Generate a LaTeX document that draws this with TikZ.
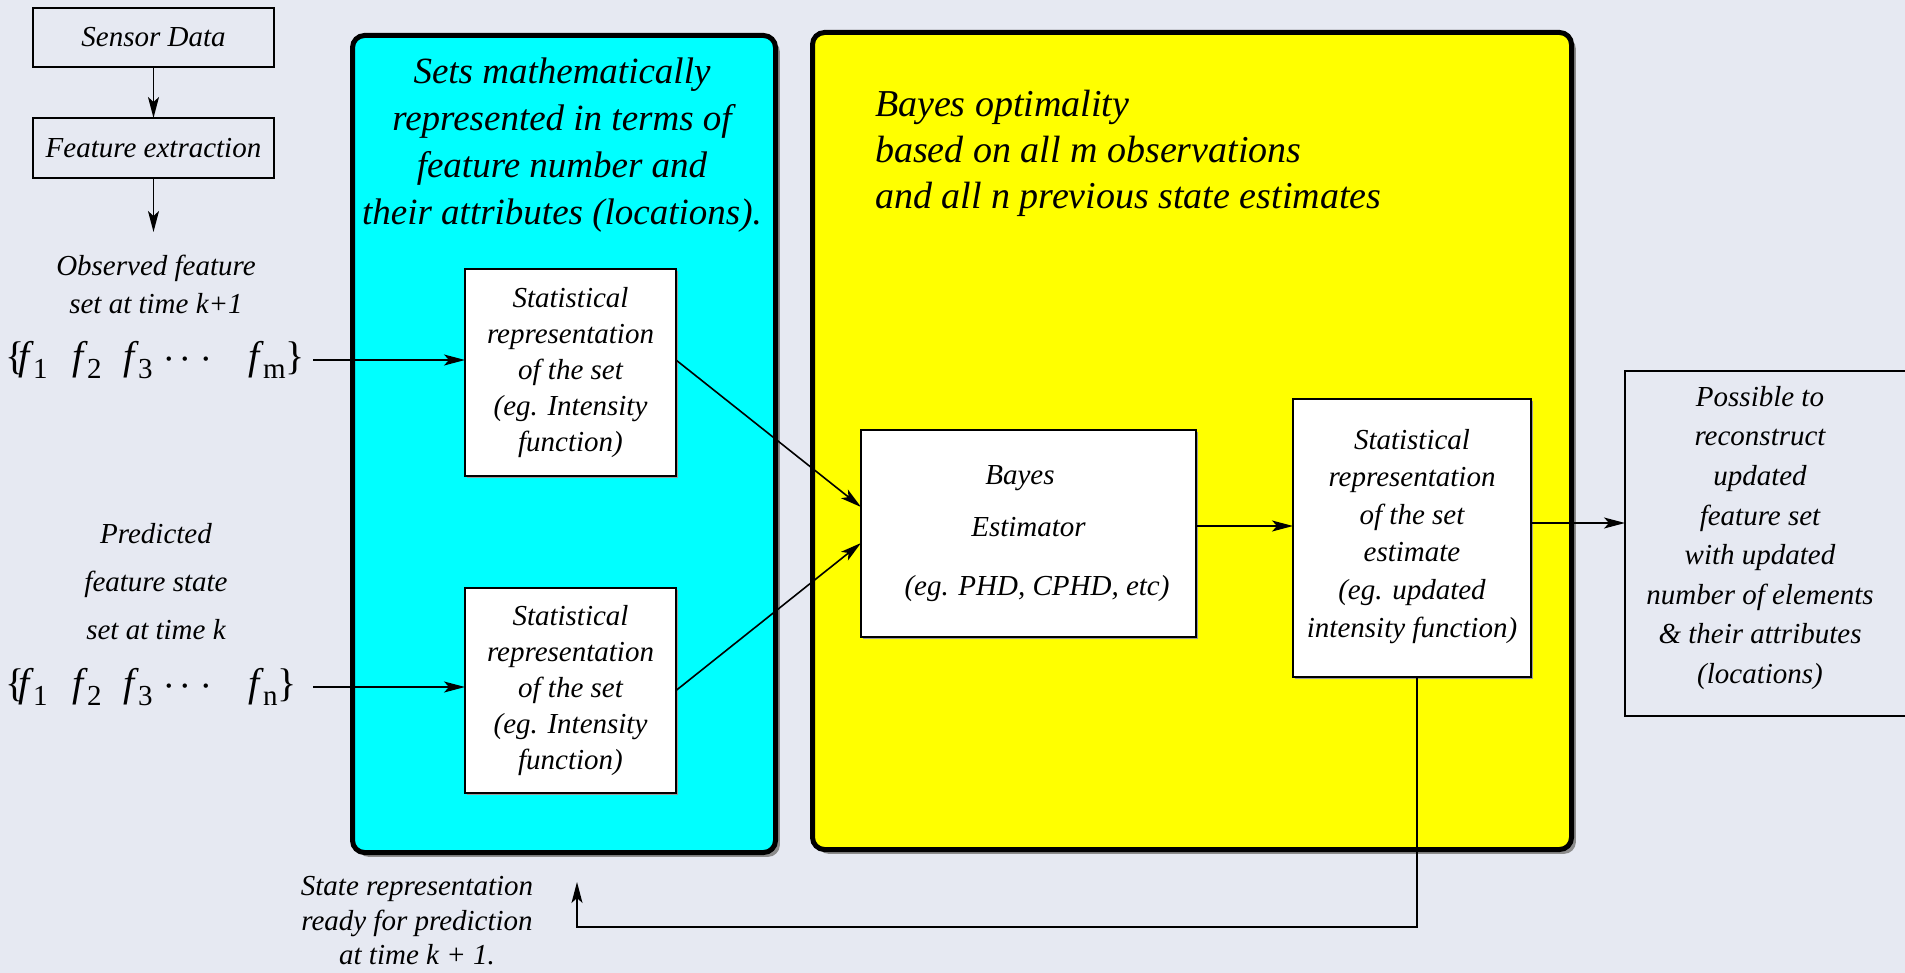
\documentclass[tikz,border=0pt]{standalone}
\usepackage{fontspec}
\setmainfont{Liberation Serif}
\usetikzlibrary{arrows.meta,shadows}
\definecolor{bg}{RGB}{230,233,242}
\definecolor{cyanbox}{RGB}{0,255,255}
\definecolor{yellowbox}{RGB}{255,255,0}
\newcommand{\fsub}[1]{\textit{f}\kern2pt\raisebox{-4.5pt}{\upshape\fontsize{14.5}{14.5}\selectfont #1}}
\newcommand{\frow}[1]{\makebox[6.5pt][l]{\textup{\{}}\makebox[27pt][l]{\fsub{1}}\makebox[25.5pt][l]{\fsub{2}}\makebox[18.5pt][l]{\fsub{3}}\makebox[44pt][l]{\hspace{1.5pt}$\cdot$\hspace{2.5pt}$\cdot$\hspace{5pt}$\cdot$}\fsub{#1}\textup{\}}}
\begin{document}
\begin{tikzpicture}[x=0.5pt,y=-0.5pt,
  every node/.style={font=\fontsize{14.5}{18}\selectfont\itshape, align=center, inner sep=0pt, outer sep=0pt},
  wbox/.style={draw, line width=0.9pt, fill=white, drop shadow={shadow xshift=0.8pt, shadow yshift=-0.8pt, fill=black!40, opacity=1}},
  obox/.style={draw, line width=0.8pt},
  arr/.style={-{Stealth[length=10.5pt,width=5.5pt,inset=2.5pt]}, line width=0.8pt},
  big/.style={draw, line width=2.5pt, rounded corners=6pt, drop shadow={shadow xshift=2.2pt, shadow yshift=-2.2pt, fill=black!45, opacity=1}}]
\useasboundingbox (0,0) rectangle (1905,973);
\clip (0,0) rectangle (1905,973);
\fill[bg] (0,0) rectangle (1905,973);

% panels
\node (cyanp) [big, fill=cyanbox, minimum width=211.5pt, minimum height=408.5pt] at (564,444) {};
\node (yellowp) [big, fill=yellowbox, minimum width=379.5pt, minimum height=408.5pt] at (1192,441) {};

\node (ctitle) at (562,145) [font=\fontsize{18.5}{23.5}\selectfont\itshape] {Sets mathematically\\represented in terms of\\feature number and\\their attributes (locations).};
\node (ytitle) [anchor=west, align=left, font=\fontsize{19}{23}\selectfont\itshape] at (875,153) {Bayes optimality\\based on all m observations\\and all n previous state estimates};

% left column
\node (sd) [obox, minimum width=120.5pt, minimum height=29.5pt] at (153.5,37.5) {Sensor Data};
\node (fe) [obox, minimum width=120.5pt, minimum height=30pt] at (153.5,148) {Feature extraction};
\coordinate (feend) at (153.5,232);
\node (obs) at (156,284) [font=\fontsize{14.5}{19}\selectfont\itshape] {Observed feature\\set at time k+1};
\node (fm) [anchor=west, font=\fontsize{20}{20}\selectfont\itshape] at (5,360) {\frow{m}};
\node (pred) at (156,582) [font=\fontsize{14.5}{24}\selectfont\itshape] {Predicted\\feature state\\set at time k};
\node (fn) [anchor=west, font=\fontsize{20}{20}\selectfont\itshape] at (5,687) {\frow{n}};

% inner boxes
\node (b1) [wbox, minimum width=105.5pt, minimum height=103.5pt] at (570.5,372.5) {Statistical\\representation\\of the set\\(eg. Intensity\\function)};
\node (b2) [wbox, minimum width=105.5pt, minimum height=102.5pt] at (570.5,690.5) {Statistical\\representation\\of the set\\(eg. Intensity\\function)};
\node (bayes) [wbox, minimum width=167.5pt, minimum height=103.5pt] at (1028.5,533.5) {Bayes\hspace*{8.5pt}\\[8pt]Estimator\hspace*{8.5pt}\\[11.5pt]\hspace*{8.5pt}(eg. PHD, CPHD, etc)};
\node (est) [wbox, minimum width=119pt, minimum height=139pt, font=\fontsize{14.5}{18.8}\selectfont\itshape] at (1412,538) {Statistical\\representation\\of the set\\estimate\\(eg. updated\\intensity function)\\[-13.8pt]\mbox{}};

% right box
\node (rbox) [obox, anchor=north west, minimum width=145pt, minimum height=172.5pt] at (1625,371) {};
\node (rtext) at (1760,538) [font=\fontsize{14.5}{19.8}\selectfont\itshape] {Possible to\\reconstruct\\updated\\feature set\\with updated\\number of elements\\\& their attributes\\(locations)};

% bottom label
\node (state) at (417,921) [font=\fontsize{14.5}{17.25}\selectfont\itshape] {State representation\\ready for prediction\\at time k + 1.};
\coordinate (fb) at (577,882);

% connectors
\draw[arr] (sd) -- (fe);
\draw[arr] (fe) -- (feend);
\draw[arr] (fm.east -| 313,0) -- (fm.east -| b1.west);
\draw[arr] (fn.east -| 313,0) -- (fn.east -| b2.west);
\draw[arr] (b1.east |- fm.east) -- ([yshift=13.25pt]bayes.west);
\draw[arr] (b2.east) -- ([yshift=-4.75pt]bayes.west);
\draw[arr] ([yshift=3.75pt]bayes.east) -- ([yshift=3.75pt]bayes.east -| est.west);
\draw[arr] ([yshift=7.5pt]est.east) -- ([yshift=7.5pt]est.east -| rbox.west);
\draw[arr, line width=0.7pt] ([xshift=2.5pt]est.south) -- ++(0,250) -| (fb);
\end{tikzpicture}
\end{document}
